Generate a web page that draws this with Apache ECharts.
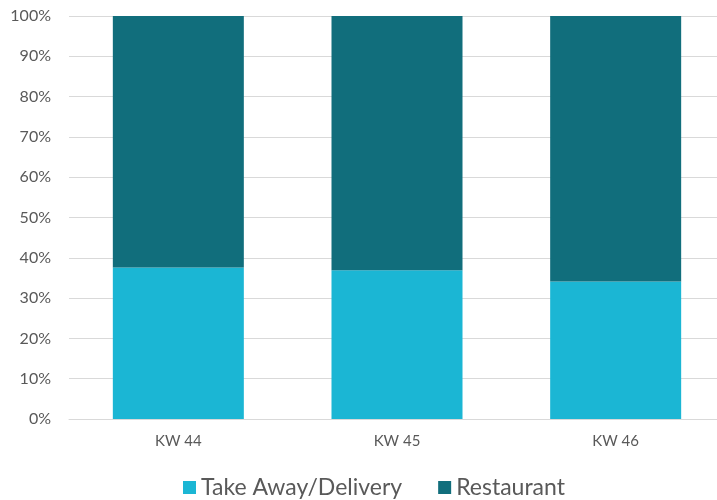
<!DOCTYPE html>
<html><head><meta charset="utf-8">
<script src="https://cdn.jsdelivr.net/npm/echarts@6/dist/echarts.min.js"></script>
<style>html,body{margin:0;padding:0;background:#fff;overflow:hidden}#c{width:725px;height:500px}</style>
</head><body><div id="c"></div>
<script>
const categories = ['KW 44', 'KW 45', 'KW 46'];
const takeAway = [37.6, 36.9, 34.1];
const restaurant = [62.4, 63.1, 65.9];
const yTicks = [0, 10, 20, 30, 40, 50, 60, 70, 80, 90, 100];

const chart = echarts.init(document.getElementById('c'), null, {renderer: 'canvas'});
const font = 'Lato, "Open Sans", sans-serif';
chart.setOption({
  animation: false,
  grid: {left: 69, top: 16, right: 0, bottom: 81, containLabel: false},
  legend: {
    bottom: -4, left: 178, itemWidth: 13, itemHeight: 13, itemGap: 36,
    icon: 'rect',
    textStyle: {fontFamily: font, fontSize: 23, color: '#595959'},
    data: ['Take Away/Delivery', 'Restaurant']
  },
  xAxis: {
    type: 'category', data: categories,
    axisLine: {show: true, lineStyle: {color: '#d9d9d9', width: 1}},
    axisTick: {show: false},
    axisLabel: {fontFamily: font, fontSize: 15, color: '#595959', margin: 15}
  },
  yAxis: {
    type: 'value', min: 0, max: 100, interval: 10,
    axisLine: {show: false}, axisTick: {show: false},
    splitLine: {lineStyle: {color: '#d9d9d9', width: 1}},
    axisLabel: {fontFamily: font, fontSize: 16, color: '#595959', margin: 18,
      formatter: v => yTicks.includes(v) ? v + '%' : ''}
  },
  series: [
    {name: 'Take Away/Delivery', type: 'bar', stack: 's', barWidth: 131, data: takeAway,
     itemStyle: {color: '#1bb6d4'}},
    {name: 'Restaurant', type: 'bar', stack: 's', barWidth: 131, data: restaurant,
     itemStyle: {color: '#116e7c'}}
  ]
});
</script></body></html>
